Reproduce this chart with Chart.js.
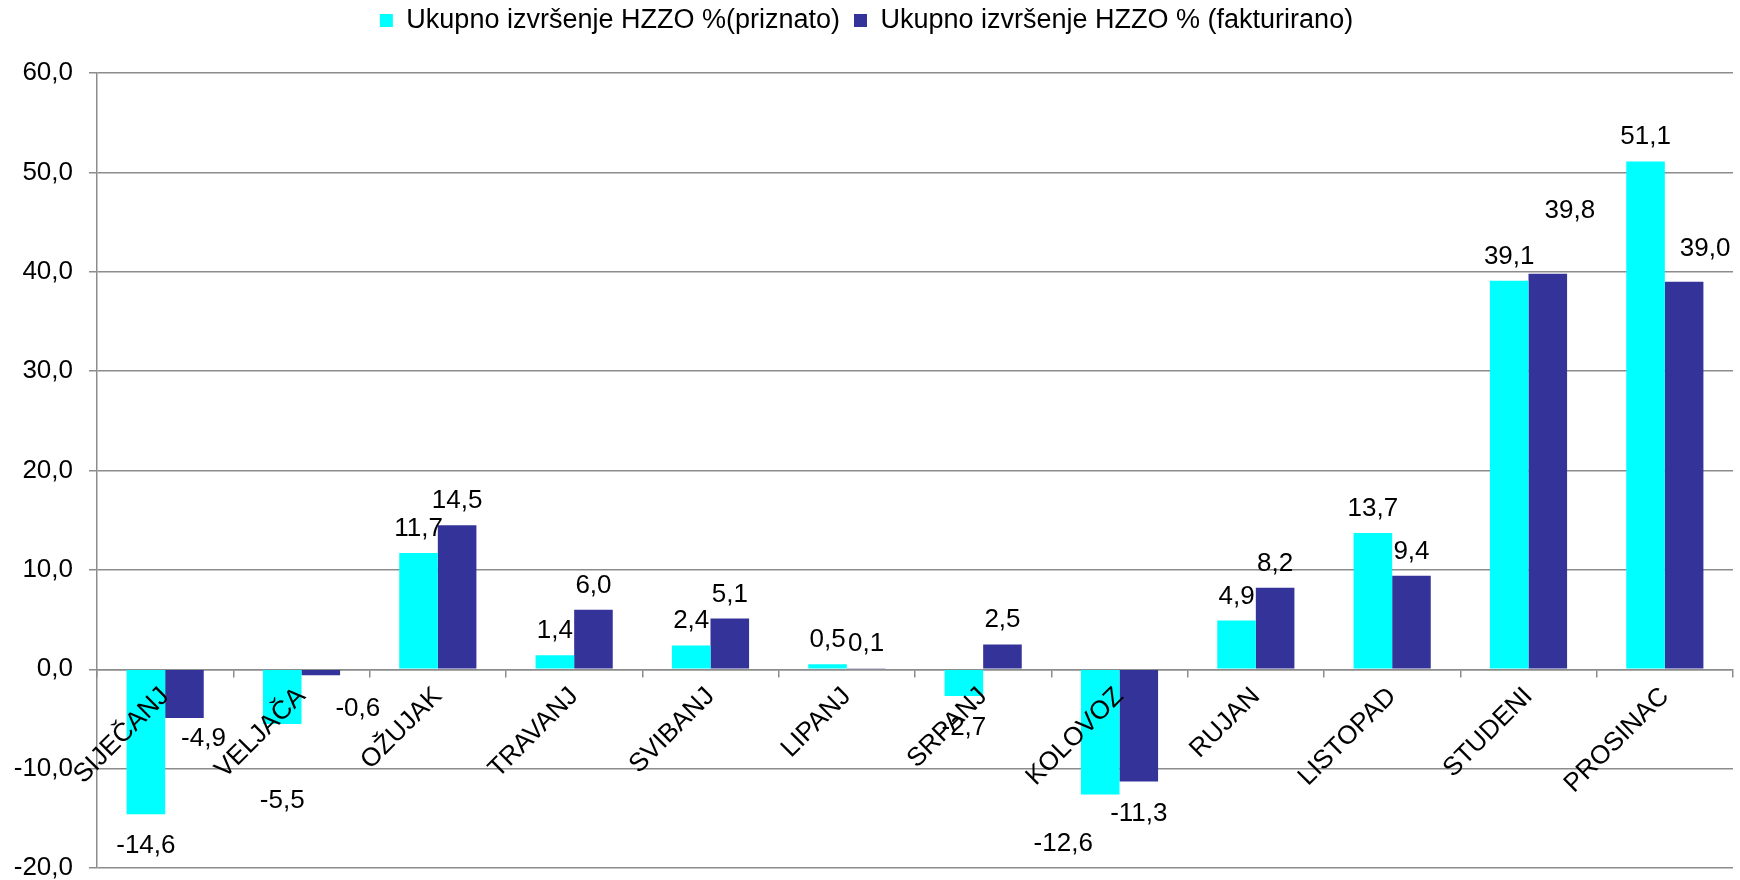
<!DOCTYPE html>
<html>
<head>
<meta charset="utf-8">
<script src="https://cdn.jsdelivr.net/npm/chart.js@4.4.1/dist/chart.umd.min.js"></script>
<style>
  body { margin: 0; background: #fff; }
  #okvir { width: 1740px; height: 880px; }
</style>
</head>
<body>
<div id="okvir"><canvas id="grafikon"></canvas></div>
<script>
const mjeseci = ['SIJEČANJ', 'VELJAČA', 'OŽUJAK', 'TRAVANJ', 'SVIBANJ', 'LIPANJ',
  'SRPANJ', 'KOLOVOZ', 'RUJAN', 'LISTOPAD', 'STUDENI', 'PROSINAC'];
const priznato = [-14.6, -5.5, 11.7, 1.4, 2.4, 0.5, -2.7, -12.6, 4.9, 13.7, 39.1, 51.1];
const fakturirano = [-4.9, -0.6, 14.5, 6.0, 5.1, 0.1, 2.5, -11.3, 8.2, 9.4, 39.8, 39.0];
const yMin = -20;
const yMax = 60;
const yKorak = 10;

const SIVA = '#8c8c8c';
const FONT = '"Liberation Sans", Arial, sans-serif';

// ručno pomaknute oznake (kao u originalu), [dx, dy]
const pomaci = {
  '0-1': [0, 45],
  '0-7': [-37, 18],
  '1-0': [19, -11],
  '1-1': [37, 2],
  '1-10': [22, -39],
  '1-11': [21, -9]
};

const zarez = (v) => v.toFixed(1).replace('.', ',');

const oznake = {
  id: 'oznake',
  afterDatasetsDraw(chart) {
    const ctx = chart.ctx;
    ctx.save();
    ctx.font = '26px ' + FONT;
    ctx.fillStyle = '#000';
    ctx.textAlign = 'center';
    ctx.textBaseline = 'alphabetic';
    chart.data.datasets.forEach((ds, di) => {
      chart.getDatasetMeta(di).data.forEach((bar, i) => {
        const v = ds.data[i];
        const p = pomaci[di + '-' + i] || [0, 0];
        const y = v >= 0 ? bar.y - 17 : bar.y + 39;
        ctx.fillText(zarez(v), bar.x + p[0], y + p[1]);
      });
    });
    ctx.restore();
  }
};

const legendaRazmak = {
  id: 'legendaRazmak',
  beforeInit(chart) {
    if (!chart.legend) return;
    const fitOrig = chart.legend.fit;
    chart.legend.fit = function () {
      fitOrig.bind(chart.legend)();
      this.height += 29;
    };
  }
};

new Chart(document.getElementById('grafikon'), {
  type: 'bar',
  data: {
    labels: mjeseci,
    datasets: [
      {
        label: 'Ukupno izvršenje HZZO %(priznato)',
        data: priznato,
        backgroundColor: '#00FFFF',
        borderWidth: 0
      },
      {
        label: 'Ukupno izvršenje HZZO % (fakturirano)',
        data: fakturirano,
        backgroundColor: '#333399',
        borderWidth: 0
      }
    ]
  },
  options: {
    responsive: true,
    maintainAspectRatio: false,
    animation: false,
    layout: { padding: { top: -7, left: 0, right: 7, bottom: 12 } },
    datasets: { bar: { categoryPercentage: 0.566, barPercentage: 1 } },
    plugins: {
      legend: {
        position: 'top',
        labels: {
          color: '#000',
          font: { size: 27, family: FONT },
          boxWidth: 13,
          boxHeight: 13,
          padding: 14
        }
      },
      tooltip: { enabled: false }
    },
    scales: {
      x: {
        position: { y: 0 },
        grid: { offset: true, drawOnChartArea: false, drawTicks: true, tickLength: 7, color: SIVA, lineWidth: 1.5 },
        border: { display: true, color: SIVA, width: 1.5 },
        ticks: {
          z: 1,
          autoSkip: false,
          minRotation: 45,
          maxRotation: 45,
          padding: 5,
          color: '#000',
          font: { size: 26, family: FONT }
        },
        afterFit(s) {
          s.height = 0;
          s.paddingLeft = 0;
          s.paddingRight = 0;
        }
      },
      y: {
        min: yMin,
        max: yMax,
        grid: { color: SIVA, lineWidth: 1.5, tickLength: 8 },
        border: { display: true, color: SIVA, width: 1.5 },
        ticks: {
          stepSize: yKorak,
          padding: 16,
          color: '#000',
          font: { size: 26, family: FONT },
          callback: (v) => zarez(v)
        },
        afterFit(s) {
          s.width = 97;
          s.paddingTop = 0;
          s.paddingBottom = 0;
        }
      }
    }
  },
  plugins: [oznake, legendaRazmak]
});
</script>
</body>
</html>
